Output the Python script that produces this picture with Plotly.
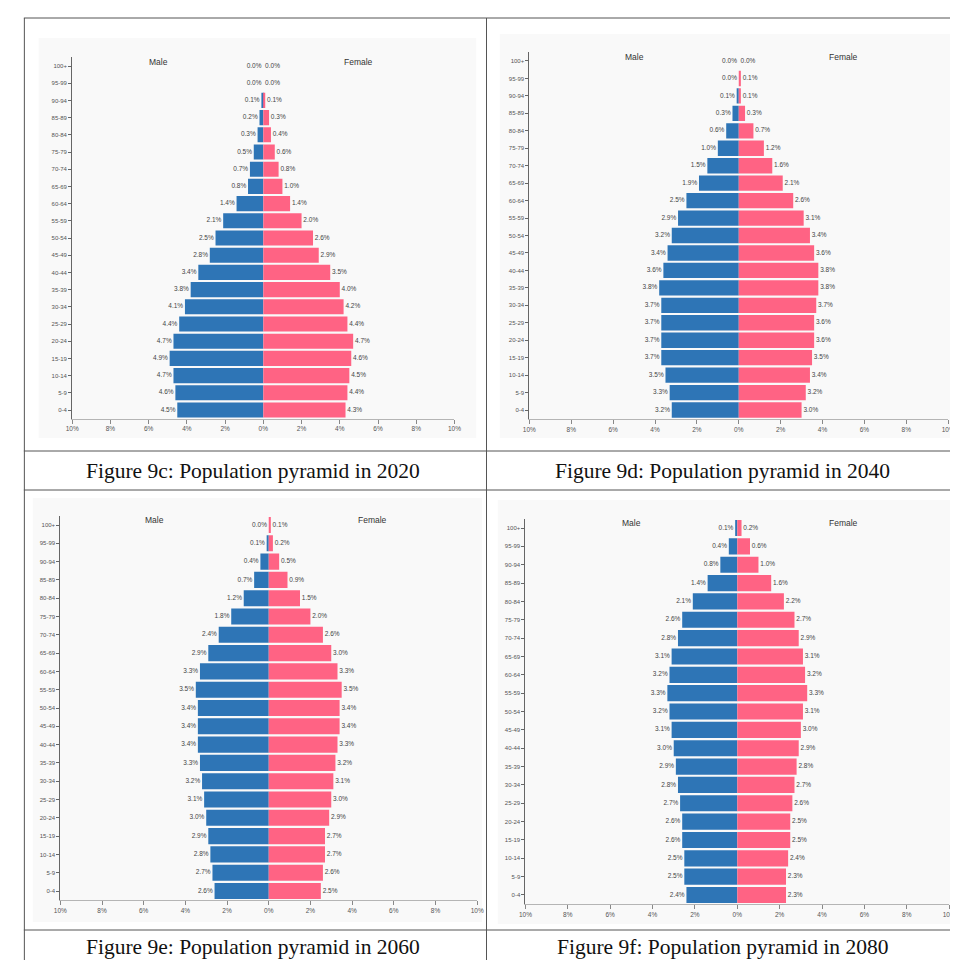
import plotly.graph_objects as go

W, H = 958, 960

ages = ["0-4", "5-9", "10-14", "15-19", "20-24", "25-29", "30-34", "35-39", "40-44",
        "45-49", "50-54", "55-59", "60-64", "65-69", "70-74", "75-79", "80-84",
        "85-89", "90-94", "95-99", "100+"]

male_2020 = [4.5, 4.6, 4.7, 4.9, 4.7, 4.4, 4.1, 3.8, 3.4, 2.8, 2.5, 2.1, 1.4, 0.8, 0.7, 0.5, 0.3, 0.2, 0.1, 0.0, 0.0]
female_2020 = [4.3, 4.4, 4.5, 4.6, 4.7, 4.4, 4.2, 4.0, 3.5, 2.9, 2.6, 2.0, 1.4, 1.0, 0.8, 0.6, 0.4, 0.3, 0.1, 0.0, 0.0]

male_2040 = [3.2, 3.3, 3.5, 3.7, 3.7, 3.7, 3.7, 3.8, 3.6, 3.4, 3.2, 2.9, 2.5, 1.9, 1.5, 1.0, 0.6, 0.3, 0.1, 0.0, 0.0]
female_2040 = [3.0, 3.2, 3.4, 3.5, 3.6, 3.6, 3.7, 3.8, 3.8, 3.6, 3.4, 3.1, 2.6, 2.1, 1.6, 1.2, 0.7, 0.3, 0.1, 0.1, 0.0]

male_2060 = [2.6, 2.7, 2.8, 2.9, 3.0, 3.1, 3.2, 3.3, 3.4, 3.4, 3.4, 3.5, 3.3, 2.9, 2.4, 1.8, 1.2, 0.7, 0.4, 0.1, 0.0]
female_2060 = [2.5, 2.6, 2.7, 2.7, 2.9, 3.0, 3.1, 3.2, 3.3, 3.4, 3.4, 3.5, 3.3, 3.0, 2.6, 2.0, 1.5, 0.9, 0.5, 0.2, 0.1]

male_2080 = [2.4, 2.5, 2.5, 2.6, 2.6, 2.7, 2.8, 2.9, 3.0, 3.1, 3.2, 3.3, 3.2, 3.1, 2.8, 2.6, 2.1, 1.4, 0.8, 0.4, 0.1]
female_2080 = [2.3, 2.3, 2.4, 2.5, 2.5, 2.6, 2.7, 2.8, 2.9, 3.0, 3.1, 3.3, 3.2, 3.1, 2.9, 2.7, 2.2, 1.6, 1.0, 0.6, 0.2]

captions = ["Figure 9c: Population pyramid in 2020", "Figure 9d: Population pyramid in 2040",
            "Figure 9e: Population pyramid in 2060", "Figure 9f: Population pyramid in 2080"]

tick_vals = [-10, -8, -6, -4, -2, 0, 2, 4, 6, 8, 10]
tick_text = ["10%", "8%", "6%", "4%", "2%", "0%", "2%", "4%", "6%", "8%", "10%"]

MALE_C = "#2e75b6"
FEMALE_C = "#ff6384"

# panel geometry in pixels: x of -10%, x of +10%, y of top row centre, y of bottom row centre
panels = [
    dict(m=male_2020, f=female_2020, x0=58, x1=446, yt=58, yb=402, bg=(24, 30, 468, 430), mx=-5.5),
    dict(m=male_2040, f=female_2040, x0=522, x1=947, yt=53, yb=402, bg=(492, 26, 957, 430), mx=-5),
    dict(m=male_2060, f=female_2060, x0=46, x1=469, yt=517, yb=883, bg=(18, 490, 474, 914), mx=-5.5),
    dict(m=male_2080, f=female_2080, x0=518, x1=948, yt=520, yb=887, bg=(490, 492, 957, 916), mx=-5),
]

fig = go.Figure()
layout = dict(width=W, height=H, margin=dict(l=0, r=0, t=0, b=0),
              paper_bgcolor="white", plot_bgcolor="rgba(0,0,0,0)",
              showlegend=False, barmode="overlay", bargap=0.12)
shapes = []
annotations = []

n = len(ages)
for i, p in enumerate(panels):
    k = "" if i == 0 else str(i + 1)
    xa, ya = "x" + k, "y" + k
    step = (p["yb"] - p["yt"]) / (n - 1)
    ytop = p["yt"] - step / 2
    ybot = p["yb"] + step / 2
    xd = [p["x0"] / W, p["x1"] / W]
    yd = [1 - ybot / H, 1 - ytop / H]
    ypos = list(range(n))
    fig.add_trace(go.Bar(x=[-v for v in p["m"]], y=ypos, orientation="h", marker_color=MALE_C,
                         marker_line_width=0, width=0.88, xaxis=xa, yaxis=ya, hoverinfo="skip"))
    fig.add_trace(go.Bar(x=p["f"], y=ypos, orientation="h", marker_color=FEMALE_C,
                         marker_line_width=0, width=0.88, xaxis=xa, yaxis=ya, hoverinfo="skip"))
    fig.add_trace(go.Scatter(x=[-v for v in p["m"]], y=ypos, mode="text",
                             text=[f"{v:.1f}% " for v in p["m"]], textposition="middle left",
                             textfont=dict(size=6.5, color="#444", family="Liberation Sans"),
                             cliponaxis=False, xaxis=xa, yaxis=ya, hoverinfo="skip"))
    fig.add_trace(go.Scatter(x=p["f"], y=ypos, mode="text",
                             text=[f" {v:.1f}%" for v in p["f"]], textposition="middle right",
                             textfont=dict(size=6.5, color="#444", family="Liberation Sans"),
                             cliponaxis=False, xaxis=xa, yaxis=ya, hoverinfo="skip"))
    layout["xaxis" + k] = dict(domain=xd, range=[-10, 10], anchor=ya, tickvals=tick_vals,
                               ticktext=tick_text, showgrid=False, zeroline=False, showline=True,
                               linecolor="#b5b5b5", ticks="outside", ticklen=4, tickcolor="#888",
                               tickfont=dict(size=6.5, color="#555", family="Liberation Sans"),
                               fixedrange=True)
    layout["yaxis" + k] = dict(domain=yd, range=[-0.5, n - 0.5], anchor=xa, tickvals=ypos,
                               ticktext=ages, showgrid=False, zeroline=False, showline=True,
                               linecolor="#666", ticks="outside", ticklen=3, tickcolor="#666",
                               tickfont=dict(size=6, color="#555", family="Liberation Sans"),
                               fixedrange=True)
    # faint screenshot background
    bx0, by0, bx1, by1 = p["bg"]
    shapes.append(dict(type="rect", xref="paper", yref="paper", layer="below",
                       x0=bx0 / W, x1=bx1 / W, y0=1 - by1 / H, y1=1 - by0 / H,
                       fillcolor="#f9f9f9", line_width=0))
    for lab, xv in (("Male", p["mx"]), ("Female", 5)):
        annotations.append(dict(text=lab, x=xv, y=n - 1 + 0.25, xref=xa, yref=ya,
                                showarrow=False, xanchor="center",
                                font=dict(size=8.5, color="#333", family="Liberation Sans")))

# table grid lines
LC = "#555"
for yy in (10, 443, 482, 922, 958.5):
    shapes.append(dict(type="line", xref="paper", yref="paper", x0=9 / W, x1=1,
                       y0=1 - yy / H, y1=1 - yy / H, line=dict(color=LC, width=1)))
for xx in (9.5, 478.5, 957.5):
    shapes.append(dict(type="line", xref="paper", yref="paper", x0=xx / W, x1=xx / W,
                       y0=1 - 958.5 / H, y1=1 - 10 / H, line=dict(color=LC, width=1)))

cap_pos = [(242, 463), (718, 463), (242, 939), (718, 939)]
for (cx, cy), txt in zip(cap_pos, captions):
    annotations.append(dict(text=txt, x=cx / W, y=1 - cy / H, xref="paper", yref="paper",
                            showarrow=False, xanchor="center", yanchor="middle",
                            font=dict(size=21.5, color="#111", family="Liberation Serif")))

layout["shapes"] = shapes
layout["annotations"] = annotations
fig.update_layout(**layout)
fig.write_html("out.html")
